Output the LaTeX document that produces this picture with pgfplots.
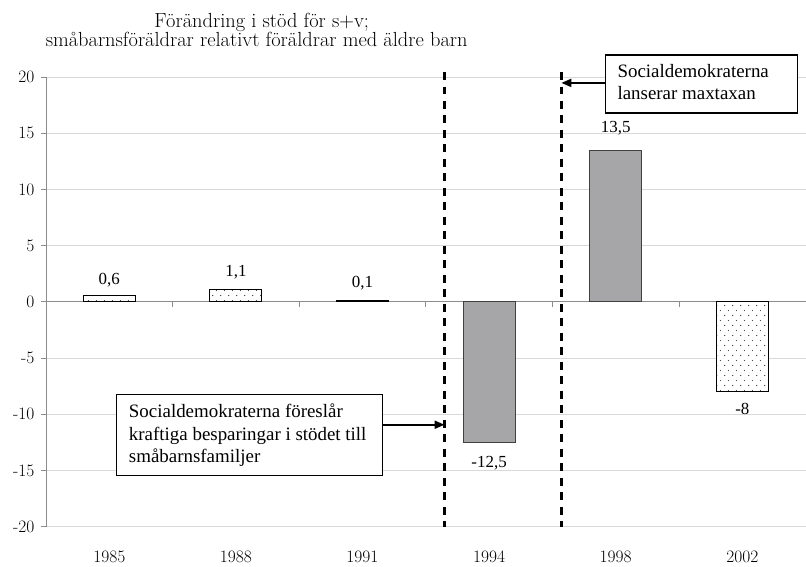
\documentclass[border=0pt]{standalone}
\usepackage{fontspec}
\newfontfamily\tnr{Liberation Serif}
\usepackage{pgfplots}
\pgfplotsset{compat=1.18}
\usetikzlibrary{patterns.meta,arrows.meta}
\definecolor{barfill}{RGB}{166,166,169}
\definecolor{axgray}{RGB}{140,140,140}
\definecolor{gridgray}{RGB}{217,217,217}
\pgfdeclarepattern{
  name=sparsedots,
  type=uncolored,
  bottom left={\pgfpoint{0pt}{0pt}},
  top right={\pgfpoint{7.6pt}{10pt}},
  tile size={\pgfpoint{7.6pt}{10pt}},
  code={
    \pgfpathcircle{\pgfpoint{1.9pt}{2.5pt}}{0.6pt}
    \pgfpathcircle{\pgfpoint{5.7pt}{7.5pt}}{0.6pt}
    \pgfusepath{fill}
  }
}
\begin{document}
\begin{tikzpicture}
\begin{axis}[
  at={(0,0)}, anchor=south west,
  scale only axis, width=760bp, height=450bp,
  xmin=-0.5, xmax=5.5, ymin=-20, ymax=20,
  axis y line*=left, axis x line*=bottom,
  y axis line style={draw=axgray, line width=0.8bp, -},
  x axis line style={draw=none, -},
  xtick={0,1,2,3,4,5},
  xticklabels={1985,1988,1991,1994,1998,2002},
  ytick={-20,-15,-10,-5,0,5,10,15,20},
  yticklabels={-20,-15,-10,-5,0,5,10,15,20},
  xtick style={draw=none},
  ytick style={draw=axgray, line width=0.8bp},
  tick align=outside, major tick length=5bp,
  ymajorgrids, major grid style={draw=gridgray, line width=0.8bp},
  yticklabel style={font=\fontsize{17.5}{20}\selectfont, xshift=-3bp},
  xticklabel style={font=\fontsize{17.5}{20}\selectfont, yshift=-16bp},
  clip=false,
]
\draw[axgray, line width=0.8bp] (axis cs:-0.5,0) -- (axis cs:5.5,0);
\pgfplotsinvokeforeach{0.5,1.5,2.5,3.5,4.5}{
  \draw[axgray, line width=0.8bp] (axis cs:#1,0) -- ([yshift=-5bp]axis cs:#1,0);
}
\addplot[ybar, bar width=0.41, bar shift=0pt, fill=white, draw=black, line width=1bp,
  postaction={pattern=sparsedots, pattern color=black!85}]
  coordinates {(0,0.6) (1,1.1) (2,0.1) (5,-8)};
\addplot[ybar, bar width=0.41, bar shift=0pt, fill=barfill, draw=black!75, line width=1bp]
  coordinates {(3,-12.5) (4,13.5)};
% data labels
\node[anchor=base, font=\tnr\fontsize{17}{20}\selectfont] at (axis cs:0,1.51) {0,6};
\node[anchor=base, font=\tnr\fontsize{17}{20}\selectfont] at (axis cs:1,2.22) {1,1};
\node[anchor=base, font=\tnr\fontsize{17}{20}\selectfont] at (axis cs:2,1.24) {0,1};
\node[anchor=base, font=\tnr\fontsize{17}{20}\selectfont] at (axis cs:3,-14.76) {-12,5};
\node[anchor=base, font=\tnr\fontsize{17}{20}\selectfont] at (axis cs:4,15.1) {13,5};
\node[anchor=base, font=\tnr\fontsize{17}{20}\selectfont] at (axis cs:5,-10.04) {-8};
% dashed lines
\draw[black, line width=2.6bp, dash pattern=on 8bp off 6.5bp] (axis cs:2.648,20.44) -- (axis cs:2.648,-20);
\draw[black, line width=2.6bp, dash pattern=on 8bp off 6.5bp] (axis cs:3.571,20.44) -- (axis cs:3.571,-20);
% annotation boxes
\draw[black, line width=1.2bp, fill=white] (axis cs:0.059,-8.27) rectangle (axis cs:2.159,-15.47);
\node[anchor=base west, inner sep=0pt, font=\tnr\fontsize{19}{22}\selectfont] at (axis cs:0.154,-10.31) {Socialdemokraterna föreslår};
\node[anchor=base west, inner sep=0pt, font=\tnr\fontsize{19}{22}\selectfont] at (axis cs:0.154,-12.29) {kraftiga besparingar i stödet till};
\node[anchor=base west, inner sep=0pt, font=\tnr\fontsize{19}{22}\selectfont] at (axis cs:0.154,-14.27) {småbarnsfamiljer};
\draw[black, line width=2bp, -{Triangle[length=10bp,width=8bp]}] (axis cs:2.159,-10.93) -- (axis cs:2.648,-10.93);
\draw[black, line width=1.2bp, fill=white] (axis cs:3.919,21.96) rectangle (axis cs:5.434,16.8);
\node[anchor=base west, inner sep=0pt, font=\tnr\fontsize{19}{22}\selectfont] at (axis cs:4.013,19.91) {Socialdemokraterna};
\node[anchor=base west, inner sep=0pt, font=\tnr\fontsize{19}{22}\selectfont] at (axis cs:4.013,17.96) {lanserar maxtaxan};
\draw[black, line width=2bp, -{Triangle[length=10bp,width=8bp]}] (axis cs:3.919,19.47) -- (axis cs:3.571,19.47);
% title
\node[anchor=base, inner sep=0pt, font=\fontsize{20.5}{22}\selectfont] at (axis cs:1.204,24.44) {Förändring i stöd för s+v;};
\node[anchor=base, inner sep=0pt, font=\fontsize{20.5}{22}\selectfont] at (axis cs:1.164,22.67) {småbarnsföräldrar relativt föräldrar med äldre barn};
\end{axis}
\path[use as bounding box] (-46bp,-35bp) rectangle (760bp,527bp);
\end{tikzpicture}
\end{document}
